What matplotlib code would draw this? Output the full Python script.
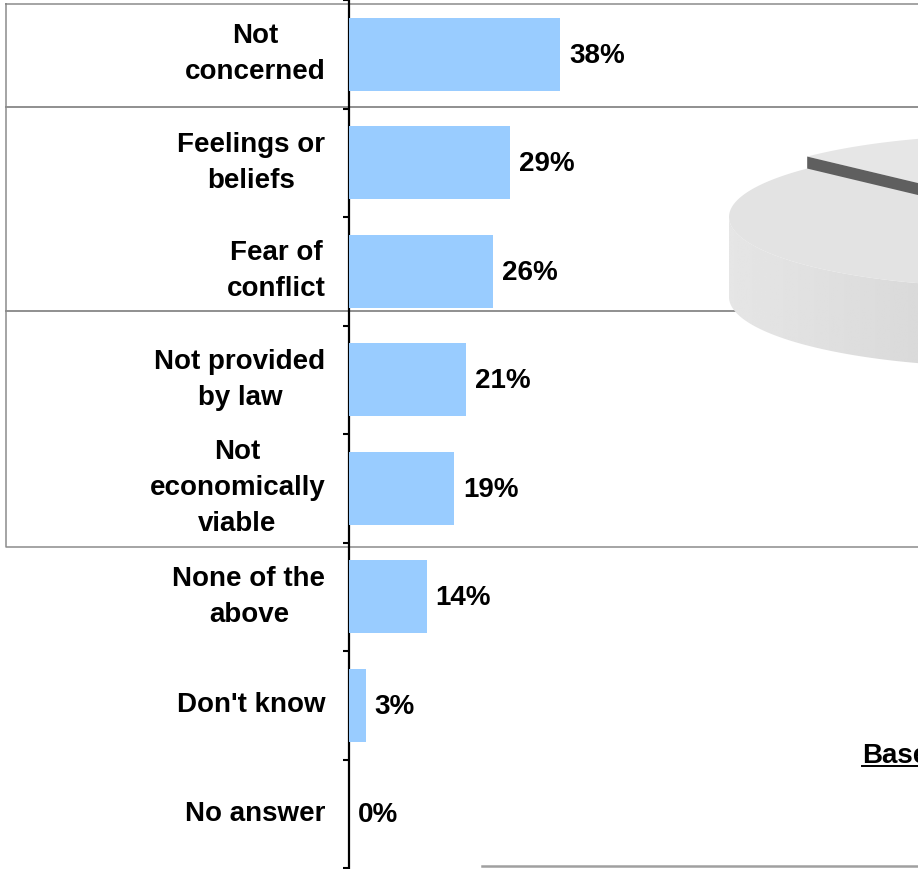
import numpy as np
import matplotlib
matplotlib.use("Agg")
import matplotlib.pyplot as plt
from matplotlib.patches import Polygon

plt.rcParams["font.family"] = ["Liberation Sans", "DejaVu Sans"]
plt.rcParams["font.weight"] = "bold"

categories = [
    "Not\nconcerned",
    "Feelings or\nbeliefs",
    "Fear of\nconflict",
    "Not provided\nby law",
    "Not\neconomically\nviable",
    "None of the\nabove",
    "Don't know",
    "No answer",
]
values = [38, 29, 26, 21, 19, 14, 3, 0]
value_labels = [f"{v}%" for v in values]

W, H = 918, 869
DPI = 100
fig = plt.figure(figsize=(W / DPI, H / DPI), dpi=DPI)

# background layer in pixel coordinates
bg = fig.add_axes([0, 0, 1, 1])
bg.set_xlim(0, W)
bg.set_ylim(H, 0)
bg.axis("off")

# bar chart
ax = fig.add_axes([349 / W, 1 / H, (W - 349) / W, 868 / H])
ax.patch.set_alpha(0)
y = np.arange(len(categories))
ax.barh(y, values, height=0.67, color="#99ccff", zorder=3)
ax.set_ylim(len(categories) - 0.5, -0.5)
ax.set_xlim(0, 102.5)
for side in ("top", "right", "bottom"):
    ax.spines[side].set_visible(False)
ax.spines["left"].set_linewidth(1.6)
ax.set_xticks([])
ax.set_yticks(y)
ax.set_yticklabels(categories, fontsize=20, fontweight="bold",
                   multialignment="center", linespacing=1.5)
for lab in ax.get_yticklabels():
    lab.set_verticalalignment("center")
ax.tick_params(axis="y", which="major", length=0, pad=17)
ax.set_yticks(np.arange(len(categories) + 1) - 0.5, minor=True)
ax.tick_params(axis="y", which="minor", length=4.5, width=1.5, direction="out")

for yi, v, lab in zip(y, values, value_labels):
    ax.annotate(lab, (v, yi), xytext=(6.5, -1), textcoords="offset points",
                ha="left", va="center", fontsize=20, fontweight="bold")

# grey grouping boxes behind the chart (pixel rows, they run off the right edge)
for top, bot in [(4, 107), (107, 311), (311, 547)]:
    bg.plot([6, W + 5, W + 5, 6, 6], [top, top, bot, bot, top],
            color="#8c8c8c", lw=1.1, zorder=1, clip_on=False)

bg.plot([482, W + 5], [866, 866], color="#a0a0a0", lw=1.8, zorder=1)

# partial 3D pie in the upper right (only its left edge is visible)
cx, cy, a, b, depth = 1010, 217, 281, 70, 80
cut = np.deg2rad(136.2)
lift = 12

def rim(t, dy=0.0):
    return np.column_stack([cx + a * np.cos(t), cy - b * np.sin(t) + dy])

# exploded slice (behind)
t_exp = np.linspace(np.deg2rad(60), cut, 60)
pts = np.vstack([[cx, cy - lift], rim(t_exp, -lift)])
bg.add_patch(Polygon(pts, closed=True, fc="#e6e6e6", ec="none", zorder=2))
face = np.array([[cx, cy - lift], rim(np.array([cut]), -lift)[0],
                 rim(np.array([cut]), -lift + depth)[0], [cx, cy - lift + depth]])
bg.add_patch(Polygon(face, closed=True, fc="#5f5f5f", ec="none", zorder=2.1))

# main body side band with gradient
t_side = np.linspace(np.pi, 2 * np.pi, 120)
side = np.vstack([rim(t_side), rim(t_side[::-1], depth)])
side_patch = Polygon(side, closed=True, fc="none", ec="none", zorder=2.2)
bg.add_patch(side_patch)
grad = np.linspace(0.9, 0.76, 256)[None, :]
img = bg.imshow(np.repeat(grad, 2, axis=0), cmap="gray", vmin=0, vmax=1,
                extent=[cx - a, cx + a, cy + b + depth, cy - b], aspect="auto",
                zorder=2.2, interpolation="bilinear")
img.set_clip_path(side_patch)

# main body top
t_top = np.linspace(cut, np.deg2rad(420), 200)
top_pts = np.vstack([[cx, cy], rim(t_top)])
bg.add_patch(Polygon(top_pts, closed=True, fc="#e3e3e3", ec="none", zorder=2.3))
bg.set_xlim(0, W)
bg.set_ylim(H, 0)

# base note (runs off the right edge, as in the source)
bg.text(862, 763, "Base", fontsize=20, fontweight="bold", ha="left",
        va="baseline", zorder=3)
bg.plot([862, W], [766, 766], color="black", lw=1.4, zorder=3)

fig.savefig("out.png", dpi=DPI)
